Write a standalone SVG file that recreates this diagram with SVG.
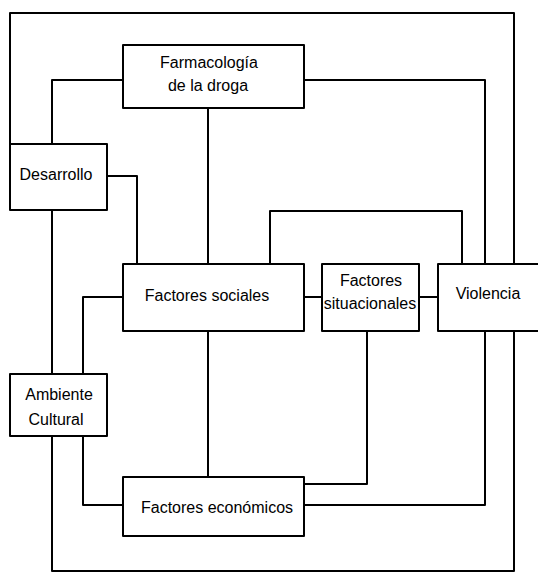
<svg xmlns="http://www.w3.org/2000/svg" width="538" height="572" viewBox="0 0 538 572">
<style>
.box{fill:#fff;stroke:#000;stroke-width:2;stroke-linejoin:round}
.c{fill:none;stroke:#000;stroke-width:2;stroke-linejoin:round}
text{font-family:"Liberation Sans",Arial,sans-serif;font-size:16px;fill:#000;text-anchor:middle}
</style>
<rect width="538" height="572" fill="#fff"/>
<g id="connectors">
<path class="c" d="M10,144 V13 H514 V264"/>
<path class="c" d="M52,436 V571 H514 V331"/>
<path class="c" d="M123,80 H52 V144"/>
<path class="c" d="M304,80 H485 V264"/>
<path class="c" d="M208,108 V264"/>
<path class="c" d="M107,176 H137 V264"/>
<path class="c" d="M52,210 V374"/>
<path class="c" d="M123,297 H83 V374"/>
<path class="c" d="M270,264 V211 H462 V264"/>
<path class="c" d="M304,297 H322"/>
<path class="c" d="M419,297 H438"/>
<path class="c" d="M208,331 V477"/>
<path class="c" d="M367,331 V484 H304"/>
<path class="c" d="M485,331 V505 H304"/>
<path class="c" d="M83,436 V505 H123"/>
</g>
<g id="farmacologia">
<rect class="box" x="123" y="45" width="181" height="63"/>
<text x="209" y="68">Farmacología</text>
<text x="208" y="91">de la droga</text>
</g>
<g id="desarrollo">
<rect class="box" x="10" y="144" width="97" height="66"/>
<text x="56" y="180">Desarrollo</text>
</g>
<g id="factores-sociales">
<rect class="box" x="123" y="264" width="181" height="67"/>
<text x="207" y="301">Factores sociales</text>
</g>
<g id="factores-situacionales">
<rect class="box" x="322" y="264" width="97" height="67"/>
<text x="371" y="286">Factores</text>
<text x="370" y="309">situacionales</text>
</g>
<g id="violencia">
<rect class="box" x="438" y="264" width="110" height="67"/>
<text x="488" y="299">Violencia</text>
</g>
<g id="ambiente-cultural">
<rect class="box" x="10" y="374" width="97" height="62"/>
<text x="59" y="400">Ambiente</text>
<text x="56" y="425">Cultural</text>
</g>
<g id="factores-economicos">
<rect class="box" x="123" y="477" width="181" height="59"/>
<text x="217" y="513">Factores económicos</text>
</g>
</svg>
